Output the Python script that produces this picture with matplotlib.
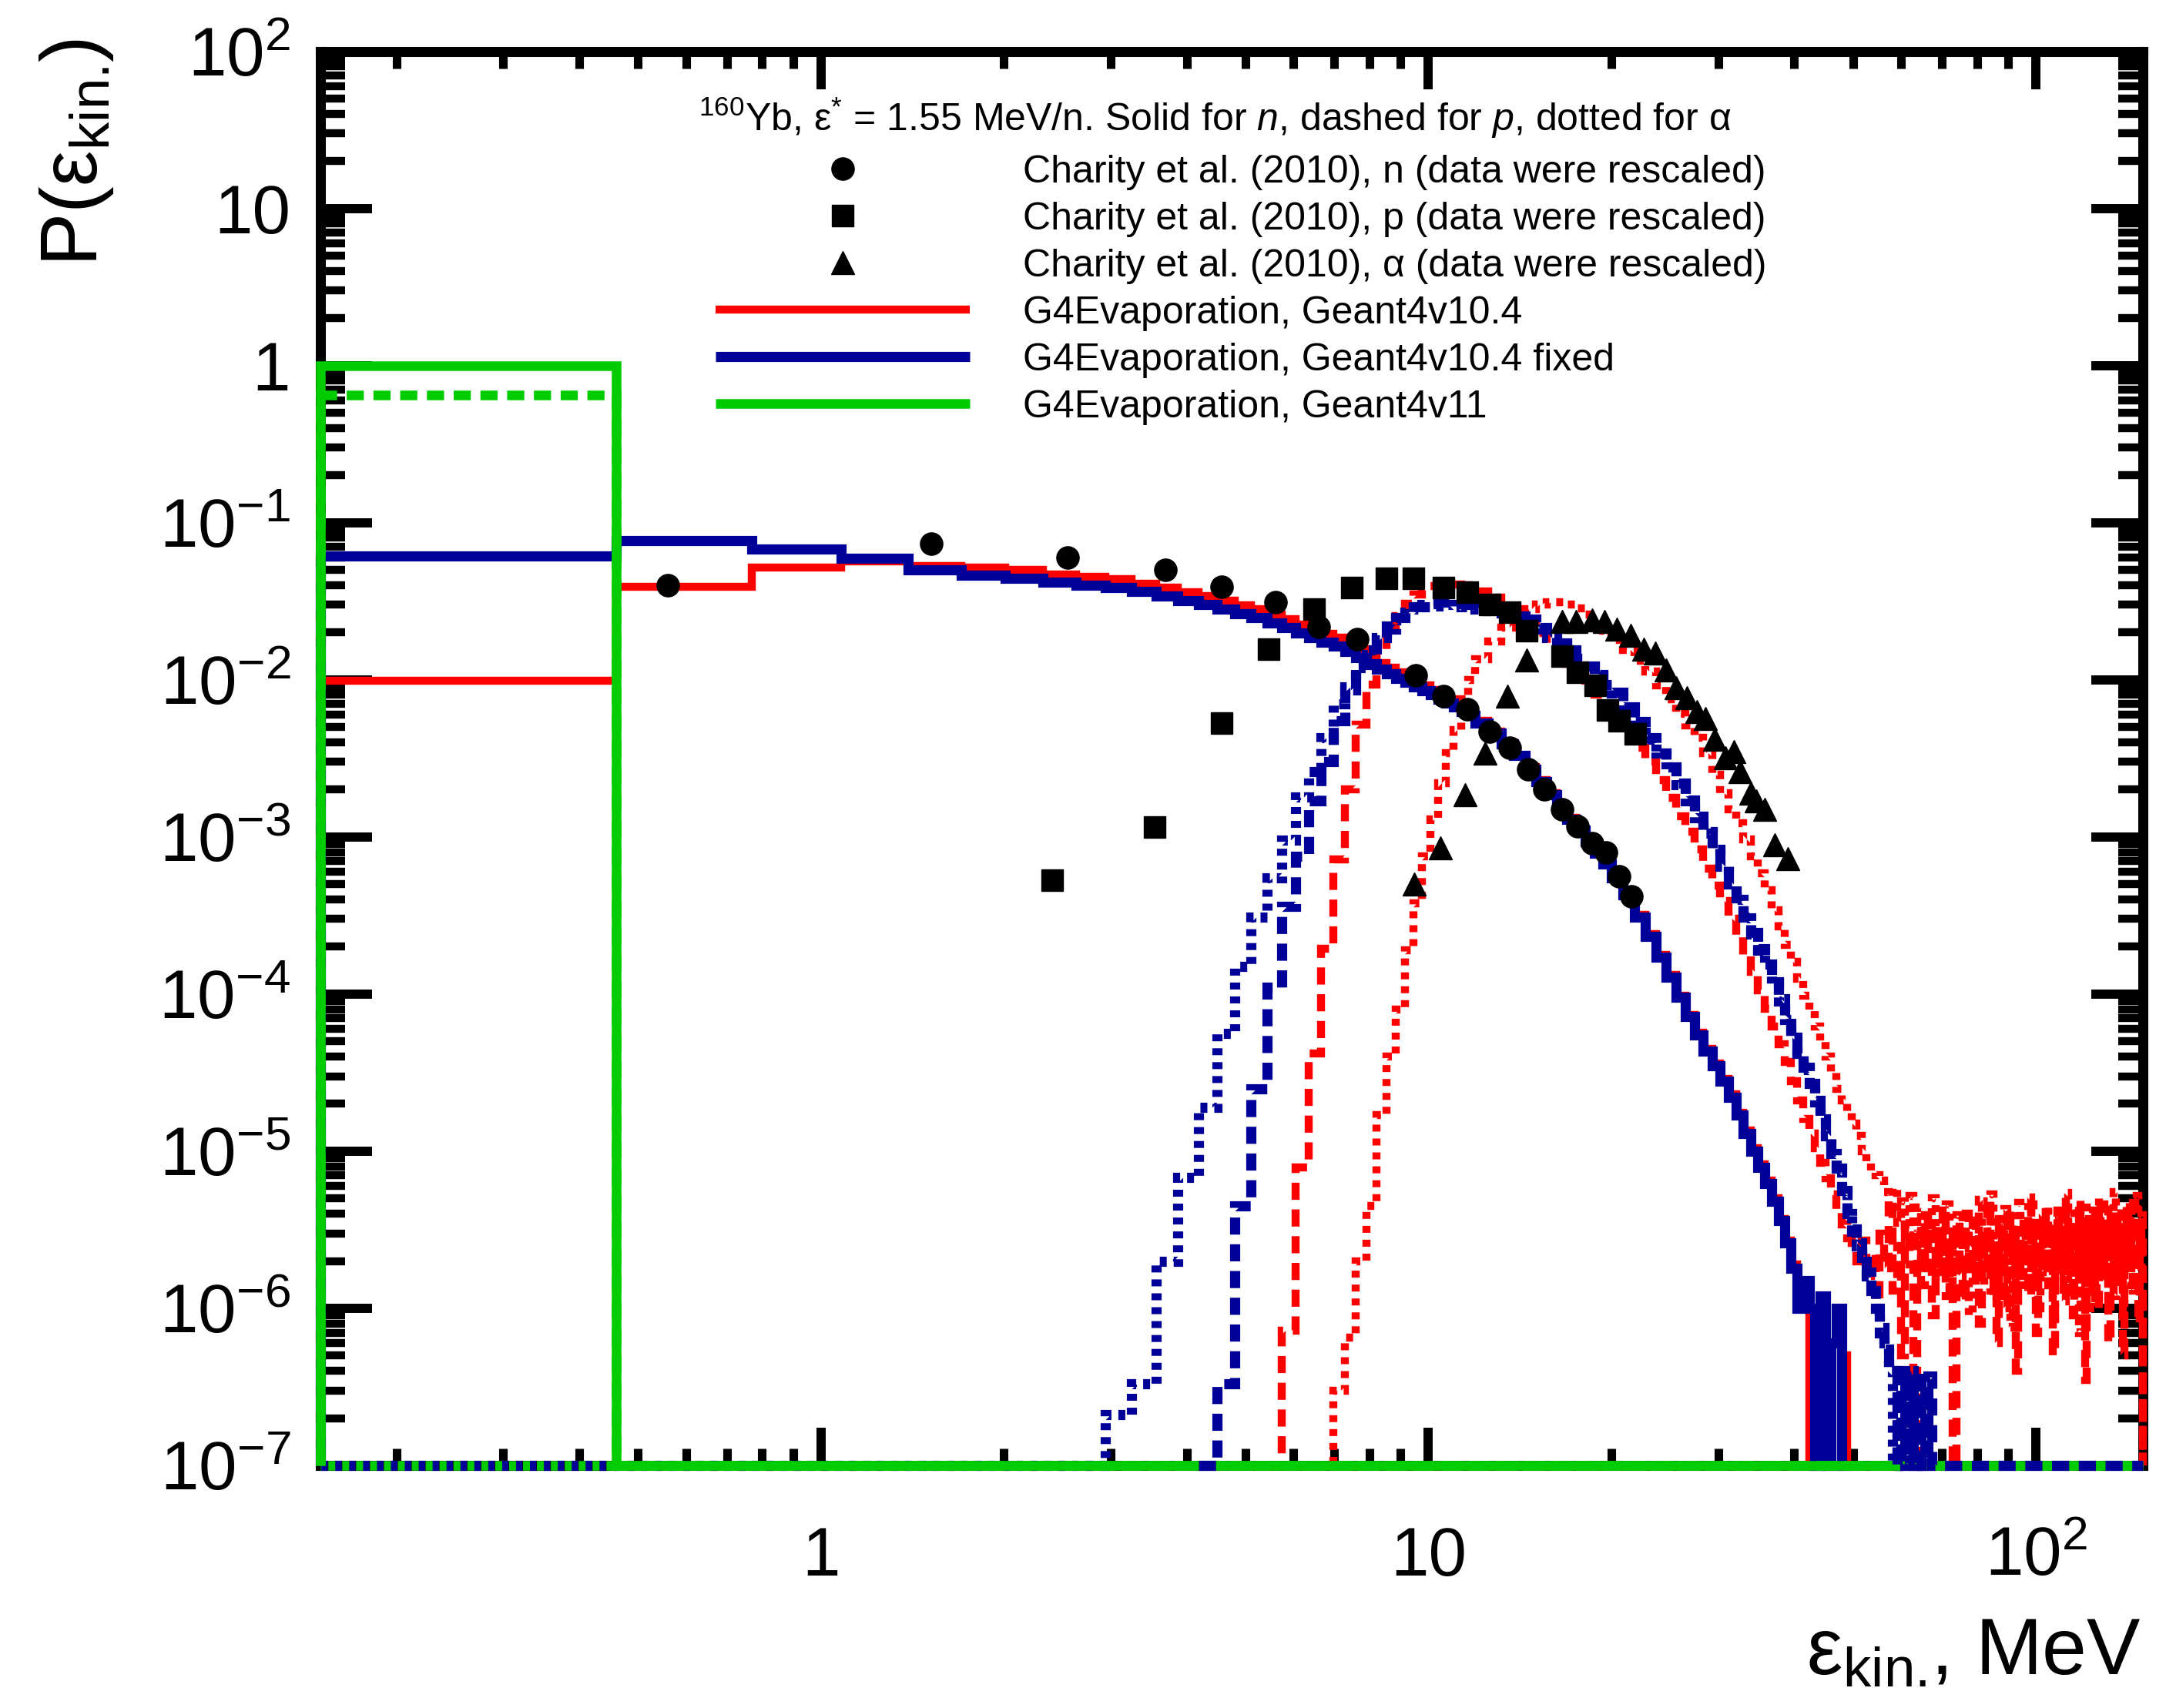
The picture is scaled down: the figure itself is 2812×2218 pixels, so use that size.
import numpy as np
import matplotlib
matplotlib.use("Agg")
import matplotlib.pyplot as plt
from matplotlib.lines import Line2D
from matplotlib.ticker import FixedLocator, LogLocator, NullFormatter

plt.rcParams['font.family'] = ['Liberation Sans', 'DejaVu Sans']
plt.rcParams['mathtext.fontset'] = 'custom'
plt.rcParams['mathtext.rm'] = 'Liberation Sans'
plt.rcParams['mathtext.it'] = 'Liberation Sans:italic'
plt.rcParams['mathtext.bf'] = 'Liberation Sans:bold'
plt.rcParams['lines.scale_dashes'] = False

# ---------------- axis / text content ----------------
X_MIN, X_MAX = 0.15, 150.0
Y_MIN, Y_MAX = 1e-7, 1e2
x_major = [1, 10, 100]
x_major_labels = ['1', '10', r'$10^{2}$']
y_major = [1e-7, 1e-6, 1e-5, 1e-4, 1e-3, 1e-2, 1e-1, 1, 10, 100]
y_major_labels = [r'$10^{-7}$', r'$10^{-6}$', r'$10^{-5}$', r'$10^{-4}$', r'$10^{-3}$',
                  r'$10^{-2}$', r'$10^{-1}$', '1', '10', r'$10^{2}$']
header = r'$^{160}$Yb, ε$^{*}$ = 1.55 MeV/n. Solid for $n$, dashed for $p$, dotted for α'
legend_labels = ['Charity et al. (2010), n (data were rescaled)',
                 'Charity et al. (2010), p (data were rescaled)',
                 'Charity et al. (2010), α (data were rescaled)',
                 'G4Evaporation, Geant4v10.4',
                 'G4Evaporation, Geant4v10.4 fixed',
                 'G4Evaporation, Geant4v11']
y_title = r'P(ε$_{\rm kin.}\!$)'
x_title = r'ε$_{\rm kin.}\!$, MeV'

# ---------------- histogram binning (MeV) ----------------
fine_edges = [round(0.15 + 0.31 * k, 2) for k in range(39)]      # 0.15 .. 11.93
mid_edges = [round(11.93 + 0.62 * k, 2) for k in range(1, 14)]   # .. 19.99
far_edges = [round(19.99 + 0.93 * k, 2) for k in range(1, 141)]  # .. 150
EDGES = np.array(fine_edges + mid_edges + far_edges)
EDGES[-1] = X_MAX

# ---------------- experimental data (Charity et al., rescaled) ----------------
n_data_E = [0.56, 1.52, 2.55, 3.69, 4.57, 5.6, 6.6, 7.64, 9.54, 10.6, 11.6, 12.6, 13.6,
            14.6, 15.5, 16.6, 17.6, 18.6, 19.6, 20.6, 21.6]
n_data_P = [0.040, 0.0735, 0.060, 0.050, 0.039, 0.031, 0.0218, 0.0181, 0.0107, 0.0079,
            0.0065, 0.0047, 0.0037, 0.0027, 0.0020, 0.00149, 0.00117, 0.00091, 0.00080,
            0.00056, 0.00042]
p_data_E = [2.40, 3.54, 4.57, 5.46, 6.49, 7.48, 8.52, 9.46, 10.6, 11.6, 12.6, 13.6, 14.5,
            16.6, 17.6, 18.8, 19.7, 20.6, 21.9]
p_data_P = [5.3e-4, 1.15e-3, 5.3e-3, 0.0157, 0.0283, 0.0385, 0.0443, 0.0443, 0.0388,
            0.036, 0.0301, 0.027, 0.0206, 0.0141, 0.0112, 0.0092, 0.0064, 0.0055, 0.0045]
a_data_E = [9.48, 10.45, 11.5, 12.4, 13.5, 14.5, 16.6, 17.5, 18.6, 19.5, 20.4, 21.5, 22.6,
            23.6, 24.6, 25.6, 26.6, 27.7, 28.6, 29.6, 30.8, 31.8, 32.6, 33.9, 34.6, 35.8,
            37.2, 39.0]
a_data_P = [5.0e-4, 8.5e-4, 1.86e-3, 3.4e-3, 7.9e-3, 0.0134, 0.0234, 0.0234, 0.024,
            0.0234, 0.0209, 0.0191, 0.0157, 0.0148, 0.0116, 0.0089, 0.0077, 0.0063,
            0.0057, 0.0042, 0.0032, 0.0035, 0.0026, 0.0019, 0.0017, 0.0015, 0.00089, 0.00073]

# ---------------- G4Evaporation histograms (bin contents) ----------------
# neutrons, Geant4v10.4 (red solid) - first bin at 0.15 MeV
n_v104_start = 0.15
n_v104 = [0.0099, 0.039, 0.052, 0.0564, 0.053, 0.052, 0.050, 0.047, 0.045, 0.0435,
          0.041, 0.0385, 0.036, 0.0342, 0.0318, 0.0298, 0.028, 0.026, 0.0242, 0.0225,
          0.021, 0.0197, 0.0186, 0.0172, 0.0156, 0.0142, 0.0128, 0.0120, 0.0112, 0.0105,
          0.0099, 0.0092, 0.0086, 0.0080, 0.0075, 0.0070, 0.0066, 0.0061,
          0.0055, 0.0047, 0.0040, 0.0033, 0.0028, 0.0023, 0.0019, 0.00158, 0.00133,
          0.00112, 0.00095, 0.00081, 0.00069,
          0.00057, 0.00044, 0.00032, 0.00024, 0.000178, 0.000132, 9.8e-5, 7.4e-5, 5.7e-5,
          4.5e-5, 3.6e-5, 2.9e-5, 2.3e-5, 1.75e-5, 1.35e-5, 1.05e-5, 8.2e-6, 6.5e-6,
          5.0e-6, 3.7e-6, 2.7e-6, 1.9e-6, 1.3e-6, 1.1e-6, 0, 9e-7, 0, 6e-7, 0, 0, 5e-7, 0]
# neutrons, Geant4v10.4 fixed (blue solid)
n_fix_start = 0.15
n_fix = [0.0612, 0.0766, 0.0678, 0.0595, 0.050, 0.0465, 0.0442, 0.0416, 0.0398, 0.0385,
         0.0363, 0.034, 0.0318, 0.0302, 0.0282, 0.0264, 0.0248, 0.023, 0.0214, 0.0199,
         0.0186, 0.0174, 0.0163, 0.0152, 0.0139, 0.0127, 0.0117, 0.0109, 0.0102, 0.0096,
         0.0090, 0.0085, 0.0080, 0.0075, 0.0071, 0.0067, 0.0063, 0.0059,
         0.0053, 0.0046, 0.0039, 0.0033, 0.0027, 0.00225, 0.00186, 0.00155, 0.0013,
         0.0011, 0.00093, 0.00079, 0.00067,
         0.00055, 0.00043, 0.00031, 0.000232, 0.000172, 0.000128, 9.5e-5, 7.2e-5, 5.5e-5,
         4.35e-5, 3.5e-5, 2.8e-5, 2.2e-5, 1.7e-5, 1.3e-5, 1.0e-5, 7.9e-6, 6.2e-6, 4.8e-6,
         3.6e-6, 2.6e-6, 1.8e-6, 1.0e-6, 1.5e-6, 1.0e-6, 0, 1.2e-6, 0, 6e-7, 1.0e-6, 0, 0]
# neutrons, Geant4v11 (green solid)
n_v11_start = 0.15
n_v11 = [1.0]

# protons, Geant4v10.4 (red dashed)
p_v104_start = 5.42
p_v104 = [0, 7.2e-7, 7.9e-6, 4.2e-5, 1.95e-4, 7.2e-4, 2.0e-3, 5.2e-3, 9.3e-3, 0.0150,
          0.0200, 0.0255, 0.0305, 0.0350, 0.0375, 0.0395, 0.0405, 0.041, 0.0405, 0.040,
          0.039,
          0.0365, 0.0335, 0.030, 0.0265, 0.023, 0.0198, 0.017, 0.0146, 0.0126, 0.0108,
          0.0093, 0.0080, 0.0069,
          0.0058, 0.0047, 0.0037, 0.0030, 0.0023, 0.00178, 0.00136, 0.00108, 0.00083,
          0.00063, 0.00049, 0.00039, 0.00030, 0.00023, 0.000178, 0.000138, 0.000106,
          8.1e-5, 6.2e-5, 4.8e-5, 3.7e-5, 2.8e-5, 2.1e-5, 1.6e-5, 1.3e-5, 1.05e-5,
          8.4e-6, 6.7e-6, 5.3e-6, 4.2e-6, 3.4e-6, 2.8e-6,
          2.4e-6, 2.0e-6, 2.7e-6, 1.6e-6, 2.2e-6, 1.1e-6, 3.0e-6, 1.8e-6, 4.2e-6, 1.3e-6,
          2.5e-6, 5.0e-7, 3.4e-6, 1.9e-6, 0, 2.8e-6, 1.4e-6, 3.9e-6, 2.2e-6, 9.0e-7,
          3.1e-6, 1.7e-6, 4.5e-6, 1.2e-6, 2.6e-6, 0, 3.3e-6, 2.0e-6, 1.1e-6, 4.0e-6,
          2.4e-6, 1.5e-6, 3.6e-6, 8.0e-7, 2.9e-6, 1.8e-6, 4.8e-6, 1.3e-6, 2.2e-6, 6.0e-7,
          3.5e-6, 2.7e-6, 1.0e-6, 4.3e-6, 1.9e-6, 3.0e-6, 4.0e-7, 2.5e-6, 1.6e-6, 3.8e-6,
          2.1e-6, 1.2e-6, 4.6e-6, 2.8e-6, 7.0e-7, 3.2e-6, 1.7e-6, 2.6e-6, 4.1e-6, 1.4e-6,
          3.4e-6, 5.0e-7, 2.3e-6, 3.9e-6, 1.8e-6, 2.9e-6, 1.1e-6, 4.4e-6, 2.2e-6, 3.6e-6,
          9.0e-7, 2.7e-6, 1.5e-6, 4.9e-6, 2.0e-6, 3.1e-6, 3.5e-7, 2.4e-6, 3.7e-6, 1.3e-6,
          4.2e-6, 2.6e-6, 1.0e-6, 3.3e-6, 2.1e-6, 4.6e-6, 1.6e-6, 2.9e-6, 6.0e-7, 3.8e-6,
          2.3e-6, 1.2e-6, 4.0e-6, 2.8e-6, 1.7e-6, 3.5e-6, 5.0e-7, 2.5e-6, 4.5e-6, 1.9e-6,
          3.0e-6, 1.4e-6, 4.7e-6, 2.2e-6, 3.2e-6, 8.0e-7, 2.7e-6, 3.9e-6]
# protons, Geant4v10.4 fixed (blue dashed)
p_fix_start = 4.18
p_fix = [0, 3.3e-7, 4.5e-6, 2.5e-5, 1.1e-4, 3.6e-4, 7.5e-4, 1.7e-3, 3.0e-3, 5.5e-3,
         9.0e-3, 0.0125, 0.0145, 0.018, 0.022, 0.025, 0.027, 0.029, 0.030, 0.0305,
         0.031, 0.031, 0.031, 0.0305, 0.030,
         0.0295, 0.0288, 0.0278, 0.0265, 0.0243, 0.0215, 0.0188, 0.0172, 0.0155, 0.0138,
         0.0122, 0.0108, 0.0094,
         0.0083, 0.0067, 0.0054, 0.0043, 0.0034, 0.0028, 0.0022, 0.00172, 0.00135,
         0.00108, 8.5e-4, 6.6e-4, 5.1e-4, 4.1e-4, 3.1e-4, 2.45e-4, 1.95e-4, 1.55e-4,
         1.2e-4, 9.3e-5, 7.0e-5, 5.4e-5, 4.3e-5, 3.4e-5, 2.7e-5, 2.1e-5, 1.65e-5,
         1.28e-5, 1.0e-5, 7.8e-6, 5.6e-6, 4.0e-6, 3.2e-6, 2.6e-6, 2.1e-6, 1.7e-6, 1.3e-6,
         1.0e-6, 7.5e-7, 6.0e-7, 4.0e-7, 4.0e-7, 0, 4.0e-7, 0, 3.7e-7, 0, 4.0e-7, 0, 0,
         3.7e-7]
# protons, Geant4v11 (green dashed)
p_v11_start = 0.15
p_v11 = [0.645]

# alphas, Geant4v10.4 (red dotted)
a_v104_start = 6.66
a_v104 = [0, 3.0e-7, 6.5e-7, 2.0e-6, 4.5e-6, 1.7e-5, 4.0e-5, 8.0e-5, 1.9e-4, 3.8e-4,
          7.5e-4, 1.3e-3, 2.2e-3, 3.4e-3, 4.8e-3, 7.5e-3, 1.0e-2,
          0.0135, 0.0175, 0.0215, 0.025, 0.028, 0.030, 0.031, 0.0312, 0.030, 0.0285,
          0.026, 0.023, 0.0205,
          0.018, 0.0155, 0.0132, 0.0113, 0.0092, 0.0075, 0.0061, 0.0051, 0.0043, 0.0034,
          0.0025, 0.0019, 0.0015, 0.00122, 9.6e-4, 7.5e-4, 5.9e-4, 4.6e-4, 3.4e-4, 2.7e-4,
          2.05e-4, 1.6e-4, 1.25e-4, 9.8e-5, 7.8e-5, 6.2e-5, 5.0e-5, 4.0e-5, 3.2e-5, 2.5e-5,
          2.1e-5, 1.8e-5, 1.5e-5, 1.25e-5, 1.0e-5, 8.5e-6, 7.5e-6, 7.0e-6,
          6.5e-6, 5.5e-6, 4.2e-6, 5.8e-6, 3.5e-6, 4.8e-6, 2.6e-6, 5.2e-6, 3.0e-6, 4.4e-6,
          1.8e-6, 3.8e-6, 2.4e-6, 5.0e-6, 1.5e-6, 3.3e-6, 2.1e-6, 4.6e-6, 1.2e-6, 2.9e-6,
          3.9e-6, 1.6e-6, 4.1e-6, 2.3e-6, 9.0e-7, 3.6e-6, 2.0e-6, 4.9e-6, 1.4e-6, 3.1e-6,
          2.5e-6, 5.3e-6, 1.1e-6, 2.8e-6, 3.7e-6, 1.7e-6, 4.3e-6, 2.2e-6, 7.5e-7, 3.4e-6,
          2.6e-6, 4.7e-6, 1.3e-6, 3.0e-6, 2.0e-6, 5.1e-6, 1.5e-6, 3.5e-6, 2.4e-6, 1.0e-6,
          4.0e-6, 2.7e-6, 4.5e-6, 1.8e-6, 3.2e-6, 8.5e-7, 2.9e-6, 4.2e-6, 1.6e-6, 3.6e-6,
          2.3e-6, 5.4e-6, 1.2e-6, 3.0e-6, 1.9e-6, 4.4e-6, 2.5e-6, 7.0e-7, 3.8e-6, 2.1e-6,
          4.8e-6, 1.4e-6, 3.3e-6, 2.6e-6, 1.0e-6, 4.1e-6, 2.8e-6, 5.0e-6, 1.7e-6, 3.4e-6,
          2.2e-6, 4.6e-6, 1.1e-6, 3.1e-6, 2.4e-6, 5.5e-6, 1.5e-6, 3.7e-6, 2.0e-6, 4.3e-6,
          9.0e-7, 2.9e-6, 3.9e-6, 1.8e-6, 4.7e-6, 2.6e-6, 1.3e-6, 3.5e-6, 5.2e-6, 2.2e-6,
          3.2e-6, 1.6e-6]
# alphas, Geant4v10.4 fixed (blue dotted)
a_fix_start = 0.15
a_fix = [0, 0, 0, 0, 0, 0, 0, 0, 0,
         2.1e-7, 3.3e-7, 2.0e-6, 6.8e-6, 1.9e-5, 5.6e-5, 1.5e-4, 3.1e-4, 5.5e-4, 9.5e-4,
         1.8e-3, 2.6e-3, 4.3e-3, 7.0e-3, 8.6e-3, 0.0120, 0.0155, 0.0185, 0.021, 0.024,
         0.0262, 0.028, 0.029, 0.0295, 0.030, 0.030, 0.0295, 0.029, 0.0288,
         0.0282, 0.0275, 0.0265, 0.0253, 0.0236, 0.021, 0.0186, 0.0168, 0.0152, 0.0136,
         0.0120, 0.0106, 0.0093,
         0.0082, 0.0066, 0.0053, 0.0042, 0.0034, 0.0027, 0.00215, 0.0017, 0.00133, 0.00106,
         8.3e-4, 6.5e-4, 5.0e-4, 4.0e-4, 3.05e-4, 2.4e-4, 1.9e-4, 1.5e-4, 1.17e-4, 9.0e-5,
         6.9e-5, 5.3e-5, 4.2e-5, 3.3e-5, 2.6e-5, 2.05e-5, 1.6e-5, 1.25e-5, 9.7e-6, 7.5e-6,
         5.4e-6, 3.9e-6, 3.1e-6, 2.5e-6, 2.0e-6, 1.6e-6, 1.25e-6, 9.5e-7, 7.0e-7, 5.5e-7,
         4.0e-7, 0, 3.7e-7, 0, 0, 4.0e-7, 0, 0, 3.7e-7]
# alphas, Geant4v11 (green dotted): no entries
a_v11_start = 0.15
a_v11 = [0]

# ---------------- styles ----------------
RED, BLUE, GREEN = '#ff0000', '#000099', '#00cc00'
LW_R, LW_B, LW_G = 7.5, 9.5, 9.0
DASHED = (0, (16, 9))
DOTTED = (0, (6.5, 6.5))
DOTTED_G = (6, (6.5, 6.5))
MS_O, MS_S, MS_T = 21, 20, 21

fig = plt.figure(figsize=(28.12, 22.18), dpi=100)
ax = fig.add_axes([416 / 2812, 1 - 1903 / 2218, (2782 - 416) / 2812, (1903 - 66.5) / 2218])
ax.set_xscale('log')
ax.set_yscale('log')
ax.set_xlim(X_MIN, X_MAX)
ax.set_ylim(Y_MIN, Y_MAX)


def draw_hist(start, vals, tail_to=None, **kw):
    i0 = int(np.argmin(np.abs(EDGES - start)))
    n = min(len(vals), len(EDGES) - 1 - i0)
    e = list(EDGES[i0:i0 + n + 1])
    v = list(vals[:n])
    if tail_to is not None and e[-1] < tail_to:
        e.append(tail_to)
        v.append(0.0)
    v = np.maximum(np.asarray(v, float), Y_MIN)
    ax.stairs(v, np.asarray(e), baseline=Y_MIN, fill=False, clip_on=False, **kw)


draw_hist(n_v104_start, n_v104, color=RED, lw=LW_R, linestyle='-', zorder=3.0)
draw_hist(p_v104_start, p_v104, color=RED, lw=LW_R, linestyle=DASHED, zorder=3.1)
draw_hist(a_v104_start, a_v104, color=RED, lw=LW_R, linestyle=DOTTED, zorder=3.2)
draw_hist(n_fix_start, n_fix, color=BLUE, lw=LW_B, linestyle='-', zorder=4.0)
draw_hist(a_fix_start, a_fix, color=BLUE, lw=LW_B, linestyle=DOTTED, zorder=4.2)
draw_hist(a_v11_start, a_v11, tail_to=X_MAX, color=GREEN, lw=LW_G, linestyle=DOTTED_G, zorder=5.0)
draw_hist(p_v11_start, p_v11, tail_to=X_MAX, color=GREEN, lw=LW_G, linestyle=DASHED, zorder=5.1)
draw_hist(n_v11_start, n_v11, tail_to=X_MAX, color=GREEN, lw=LW_G, linestyle='-', zorder=5.2)
draw_hist(p_fix_start, p_fix, tail_to=X_MAX, color=BLUE, lw=LW_B, linestyle=DASHED, zorder=6.0)

ax.plot(n_data_E, n_data_P, 'o', color='k', ms=MS_O, zorder=10, clip_on=False)
ax.plot(p_data_E, p_data_P, 's', color='k', ms=MS_S, zorder=10, clip_on=False)
ax.plot(a_data_E, a_data_P, '^', color='k', ms=MS_T, zorder=10, clip_on=False)

# ---------------- axes styling ----------------
ax.xaxis.set_major_locator(FixedLocator(x_major))
ax.set_xticklabels(x_major_labels)
ax.xaxis.set_minor_locator(LogLocator(base=10, subs=np.arange(2, 10), numticks=50))
ax.xaxis.set_minor_formatter(NullFormatter())
ax.yaxis.set_major_locator(FixedLocator(y_major))
ax.set_yticklabels(y_major_labels)
ax.yaxis.set_minor_locator(LogLocator(base=10, subs=np.arange(2, 10), numticks=50))
ax.yaxis.set_minor_formatter(NullFormatter())

ax.tick_params(axis='both', which='both', direction='in', top=True, right=True, colors='k')
ax.tick_params(axis='y', which='major', length=48, width=8.6, pad=28, labelsize=64)
ax.tick_params(axis='y', which='minor', length=23, width=7.5)
ax.tick_params(axis='x', which='major', length=35, width=8.6, pad=103, labelsize=64)
ax.tick_params(axis='x', which='minor', length=16, width=8.0)
for lab in ax.get_xticklabels():
    lab.set_verticalalignment('baseline')
for sp in ax.spines.values():
    sp.set_linewidth(9.4)

# ---------------- legend ----------------
handles = [Line2D([], [], marker='o', ls='None', color='k', ms=MS_O),
           Line2D([], [], marker='s', ls='None', color='k', ms=MS_S),
           Line2D([], [], marker='^', ls='None', color='k', ms=MS_T),
           Line2D([], [], color=RED, lw=LW_R, solid_capstyle='butt'),
           Line2D([], [], color=BLUE, lw=LW_B, solid_capstyle='butt'),
           Line2D([], [], color=GREEN, lw=LW_G, solid_capstyle='butt')]
leg = ax.legend(handles, legend_labels, loc='upper left', bbox_to_anchor=(0.2168, 0.927),
                frameon=False, fontsize=36, handlelength=6.6, handletextpad=1.39,
                labelspacing=0.30, borderpad=0, borderaxespad=0, numpoints=1)
leg.set_zorder(20)
ax.text(0.491, 0.953, header, transform=ax.transAxes, ha='center', va='center',
        fontsize=36, zorder=20)

# ---------------- axis titles ----------------
fig.text(99 / 2812, 1 - 50 / 2218, y_title, rotation=90, ha='center', va='top',
         fontsize=75)
fig.text(2780 / 2812, 1 - 2174 / 2218, x_title, ha='right', va='baseline',
         fontsize=75)

fig.savefig('out.png', dpi=100)
